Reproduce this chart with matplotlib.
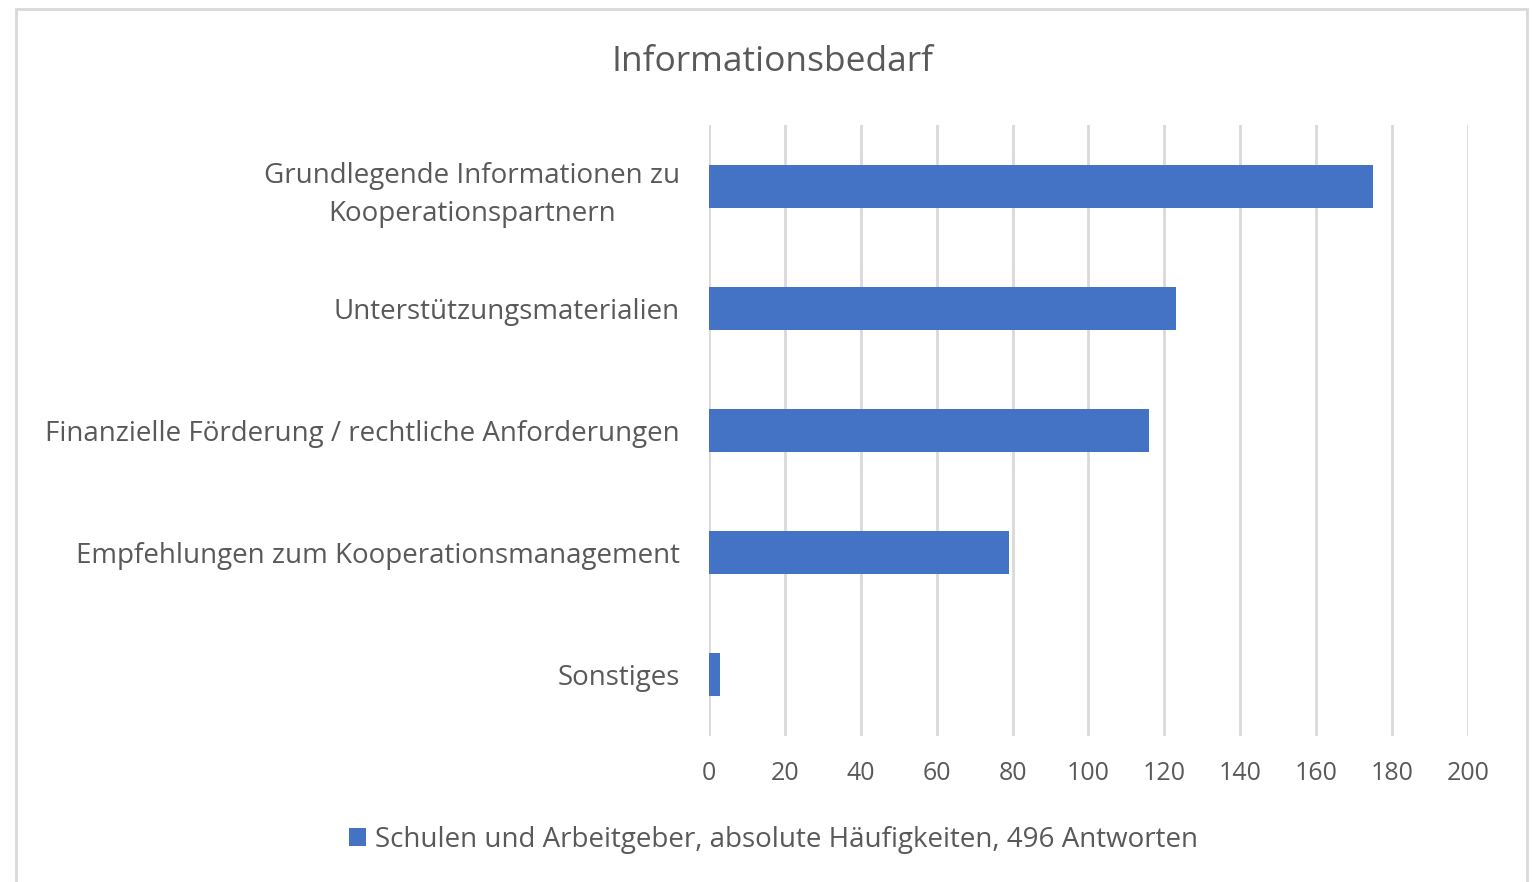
import matplotlib.pyplot as plt
from matplotlib.patches import Rectangle

plt.rcParams['font.family'] = ['Open Sans', 'DejaVu Sans']

# Daten
kategorien = ['Grundlegende Informationen zu\nKooperationspartnern',
              'Unterstützungsmaterialien',
              'Finanzielle Förderung / rechtliche Anforderungen',
              'Empfehlungen zum Kooperationsmanagement',
              'Sonstiges']
werte = [175, 123, 116, 79, 3]
x_ticks = [0, 20, 40, 60, 80, 100, 120, 140, 160, 180, 200]
serie = 'Schulen und Arbeitgeber, absolute Häufigkeiten, 496 Antworten'

grau = '#595959'
blau = '#4472c4'

fig = plt.figure(figsize=(15.32, 8.82), dpi=100)
ax = fig.add_axes([0.4628, 0.166, 0.4954, 0.692])

pos = list(range(len(kategorien)))
ax.barh(pos, werte, height=0.35, color=blau, label=serie, zorder=3)
ax.set_ylim(len(kategorien) - 0.5, -0.5)
ax.set_xlim(0, 200)
ax.set_xticks(x_ticks)
ax.set_yticks(pos)
ax.set_yticklabels(kategorien, fontsize=20, color=grau, linespacing=1.48,
                   multialignment='center')
ax.tick_params(axis='x', labelsize=18, colors=grau, length=0, pad=18)
ax.tick_params(axis='y', length=0, pad=21)
ax.grid(axis='x', color='#d9d9d9', linewidth=2, zorder=0)
for s in ax.spines.values():
    s.set_visible(False)

fig.suptitle('Informationsbedarf', x=0.504, y=0.949, fontsize=25.5, color=grau)

leg = fig.legend(loc='center', bbox_to_anchor=(0.505, 0.048), frameon=False,
                 fontsize=20, handlelength=0.6, handleheight=0.6,
                 handletextpad=0.35)
for t in leg.get_texts():
    t.set_color(grau)

# Rahmen
fig.patches.append(Rectangle((0.0105, -0.01), 0.986, 1.0, transform=fig.transFigure,
                             fill=False, edgecolor='#d9d9d9', linewidth=2))

fig.savefig('out.png', dpi=100)
